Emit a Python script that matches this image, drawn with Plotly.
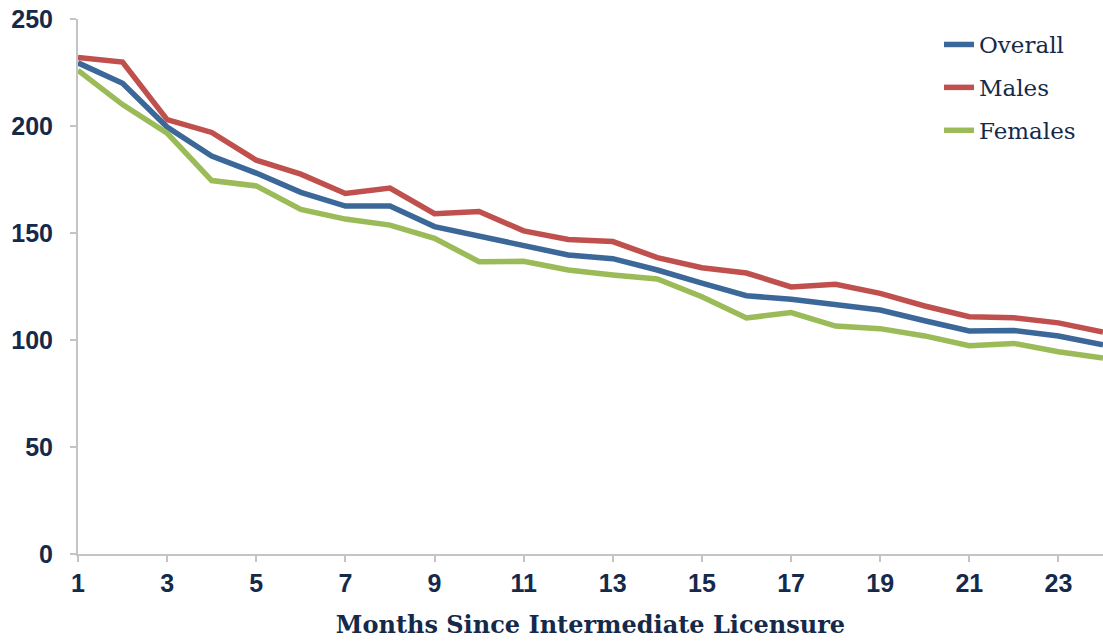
import plotly.graph_objects as go

months = list(range(1, 25))
overall = [229.5, 220, 199.5, 186, 178, 169, 162.6, 162.6, 153, 148.5, 144, 139.7,
           138, 132.7, 126.6, 120.7, 119, 116.4, 114, 109, 104.2, 104.4, 101.9, 97.7]
males = [232, 229.9, 203, 197, 184, 177.5, 168.5, 171, 159, 160, 151, 147,
         146, 138.5, 133.8, 131.3, 124.8, 126, 121.8, 115.9, 110.9, 110.4, 108, 103.7]
females = [226, 210, 196.7, 174.5, 172, 161, 156.5, 153.7, 147.5, 136.6, 136.8, 132.7,
           130.4, 128.5, 120.2, 110.3, 112.8, 106.5, 105.3, 101.9, 97.3, 98.4, 94.5, 91.6]

y_ticks = [0, 50, 100, 150, 200, 250]
x_ticks = list(range(1, 25, 2))

NAVY = "#152a4a"
AXIS = "#c4c4c4"

series = [
    ("Overall", overall, "#3c6899"),
    ("Males", males, "#c0504d"),
    ("Females", females, "#9bbb59"),
]

fig = go.Figure()
for name, vals, color in series:
    fig.add_trace(go.Scatter(
        x=months, y=vals, name=name, mode="lines", legendgroup=name,
        line=dict(color=color, width=5.5),
    ))

tick_font = dict(family="Liberation Sans", size=25, color=NAVY, weight="bold")

fig.update_xaxes(
    range=[1, 24], tickvals=x_ticks, showgrid=False, zeroline=False,
    showline=True, linecolor=AXIS, linewidth=2,
    ticks="outside", ticklen=6, tickcolor=AXIS, tickwidth=2,
    tickfont=tick_font,
    title=dict(text="<b>Months Since Intermediate Licensure</b>", standoff=20,
               font=dict(family="DejaVu Serif", size=24, color=NAVY)),
)
fig.update_yaxes(
    range=[0, 250], tickvals=y_ticks, showgrid=False, zeroline=False,
    showline=True, linecolor=AXIS, linewidth=2,
    ticks="outside", ticklen=6, tickcolor=AXIS, tickwidth=2,
    ticklabelstandoff=12,
    tickfont=tick_font,
)

fig.update_layout(
    width=1103, height=643,
    plot_bgcolor="white", paper_bgcolor="white",
    margin=dict(l=78, r=0, t=19, b=89),
    legend=dict(x=0.84, y=0.9925, xanchor="left", yanchor="top",
                font=dict(family="DejaVu Serif", size=23, color=NAVY),
                tracegroupgap=10, bgcolor="rgba(0,0,0,0)"),
)

fig.write_html("out.html", config={"displayModeBar": False},
               post_script="document.body.style.margin='0';")
